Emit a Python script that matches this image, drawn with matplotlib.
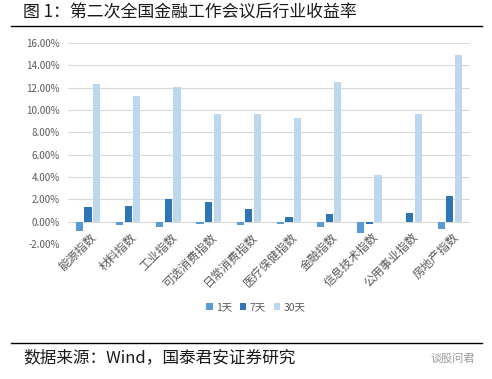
import matplotlib.pyplot as plt
import matplotlib.transforms as mtransforms
import numpy as np
from matplotlib.ticker import FuncFormatter

plt.rcParams["font.family"] = ["Noto Sans CJK SC", "DejaVu Sans"]

# Industry indices and returns (in %) after the national financial work conference
industries = ["能源指数", "材料指数", "工业指数", "可选消费指数", "日常消费指数",
              "医疗保健指数", "金融指数", "信息技术指数", "公用事业指数", "房地产指数"]
ret_1d = [-0.83, -0.28, -0.46, -0.18, -0.28, -0.18, -0.46, -0.98, -0.06, -0.68]
ret_7d = [1.29, 1.44, 2.04, 1.74, 1.14, 0.39, 0.72, -0.22, 0.78, 2.30]
ret_30d = [12.33, 11.23, 12.04, 9.64, 9.67, 9.27, 12.50, 4.19, 9.67, 14.90]
series_labels = ["1天", "7天", "30天"]
colors = ["#5B9BD5", "#2E75B6", "#BDD7EE"]

fig = plt.figure(figsize=(4.92, 3.79), dpi=100)
ax = fig.add_axes([0.138, 0.356, 0.817, 0.531])

x = np.arange(len(industries))
width = 0.18
step = 0.215
for i, vals in enumerate([ret_1d, ret_7d, ret_30d]):
    ax.bar(x + (i - 1) * step, vals, width=width, color=colors[i],
           label=series_labels[i], zorder=3)

ax.set_xlim(-0.5, len(industries) - 0.5)
ax.set_ylim(-2, 16)
ax.set_yticks(np.arange(-2, 17, 2))
ax.yaxis.set_major_formatter(FuncFormatter(lambda v, p: f"{v:.2f}%"))
ax.grid(axis="y", color="#D9D9D9", linewidth=0.8, zorder=0)
for s in ax.spines.values():
    s.set_visible(False)
ax.tick_params(axis="both", length=0, colors="#595959", labelsize=7)
ax.tick_params(axis="y", pad=6)
ax.set_xticks([])

# Category labels hang from the zero line, as Excel does
offset = mtransforms.ScaledTranslation(1.5 / 72, -6.5 / 72, fig.dpi_scale_trans)
for xi, name in zip(x, industries):
    ax.text(xi, 0, name, rotation=45, ha="right", va="top", rotation_mode="anchor",
            fontsize=8.5, color="#595959", transform=ax.transData + offset,
            zorder=4)

# Legend below the chart
fig.legend(loc="center", bbox_to_anchor=(0.52, 0.19), ncol=3, frameon=False,
           fontsize=7.5, handlelength=0.6, handleheight=0.6, handletextpad=0.3,
           columnspacing=0.8, labelcolor="#595959")

# Title and source lines
fig.text(0.047, 0.968, "图 1：第二次全国金融工作会议后行业收益率", fontsize=12.2,
         va="center", ha="left", color="#1a1a1a")
fig.add_artist(plt.Line2D([0.022, 0.98], [0.931, 0.931], color="black", linewidth=1))
fig.add_artist(plt.Line2D([0.022, 0.98], [0.095, 0.095], color="black", linewidth=1))
fig.text(0.047, 0.055, "数据来源：Wind，国泰君安证券研究", fontsize=12,
         va="center", ha="left", color="#1a1a1a")
fig.text(0.965, 0.055, "谈股问君", fontsize=8, va="center", ha="right", color="#9a9a9a")

fig.savefig("out.png", dpi=100)
